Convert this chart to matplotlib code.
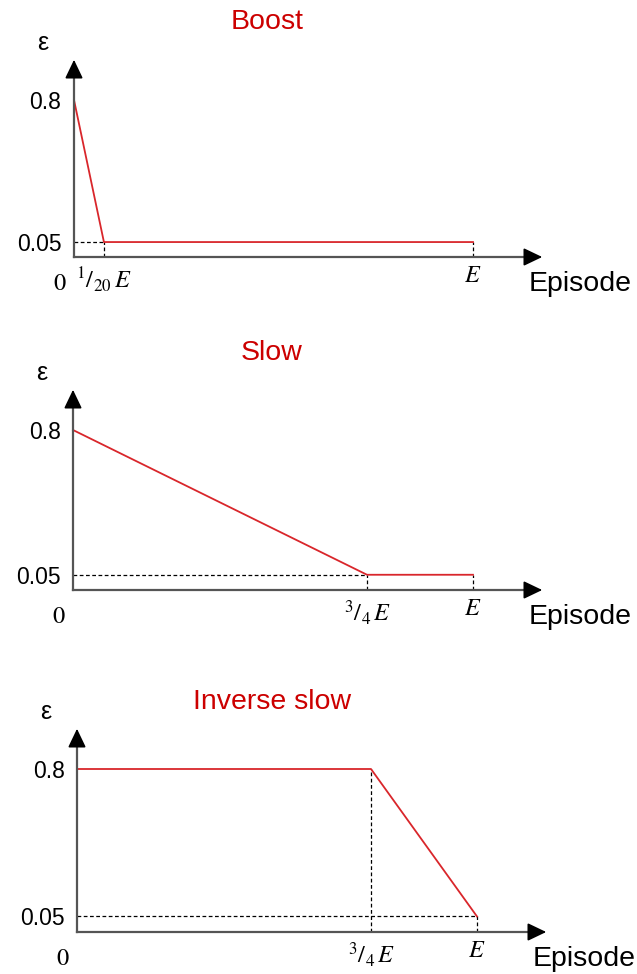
import numpy as np
import matplotlib
matplotlib.use("Agg")
import matplotlib.pyplot as plt

plt.rcParams['font.family'] = ['Liberation Sans', 'DejaVu Sans']
plt.rcParams['mathtext.fontset'] = 'stix'

# schedules: episode as fraction of E, epsilon value
boost_x = [0, 1 / 20, 1]
boost_eps = [0.8, 0.05, 0.05]
slow_x = [0, 3 / 4, 1]
slow_eps = [0.8, 0.05, 0.05]
inv_x = [0, 3 / 4, 1]
inv_eps = [0.8, 0.8, 0.05]

titles = ["Boost", "Slow", "Inverse slow"]
xlabels_boost = [r"$^{1}/_{20}\,E$", r"$E$"]
xlabels_34 = [r"$^{3}/_{4}\,E$", r"$E$"]
ytick_vals = [0.05, 0.8]
ytick_labels = ["0.05", "0.8"]

RED = "#d9262b"
TITLE_RED = "#cc0000"
W, H = 637, 974

fig = plt.figure(figsize=(W / 100, H / 100), dpi=100)


def piecewise(knots, pos):
    # schematic (non-linear) axis, like the hand drawn sketch
    f = lambda v: np.interp(v, knots, pos)
    g = lambda p: np.interp(p, pos, knots)
    return f, g


def panel(box, xs, eps, title, xlabels, title_xy, xpos):
    L, R, B, T = box
    ax = fig.add_axes([L / W, 1 - B / H, (R - L) / W, (B - T) / H])
    ax.set_yscale('function', functions=piecewise([0, 0.05, 0.8], [0, 1, 10.5]))
    ax.set_xscale('function', functions=piecewise([0, xs[1], 1], [0, xpos, 1]))
    ax.set_xlim(0, 1)
    ax.set_ylim(0, 0.8)
    for s in ax.spines.values():
        s.set_visible(False)
    ax.patch.set_alpha(0)

    # dashed guides
    emin = min(eps)
    x_first_min = xs[eps.index(emin)]
    ax.plot([0, x_first_min], [emin, emin], ls=(0, (3, 2)), color='black', lw=0.9, clip_on=False)
    for x, e in zip(xs[1:], eps[1:]):
        ax.plot([x, x], [0, e], ls=(0, (3, 2)), color='black', lw=0.9, clip_on=False)

    ax.plot(xs, eps, color=RED, lw=1.3, clip_on=False)

    # axes with arrows
    w_px, h_px = R - L, B - T
    xtip = 1 + 72 / w_px
    ytip = 1 + 43 / h_px
    ax.plot([0, xtip - 0.02], [0, 0], transform=ax.transAxes, color='#555555', lw=1.6, clip_on=False)
    ax.plot([0, 0], [0, ytip - 0.05], transform=ax.transAxes, color='#555555', lw=1.6, clip_on=False)
    head = '-|>,head_length=1.15,head_width=0.55'
    ax.annotate('', xy=(xtip, 0), xytext=(xtip - 0.05, 0), xycoords='axes fraction',
                arrowprops=dict(arrowstyle=head, color='black', lw=1.2))
    ax.annotate('', xy=(0, ytip), xytext=(0, ytip - 0.12), xycoords='axes fraction',
                arrowprops=dict(arrowstyle=head, color='black', lw=1.2))

    ax.set_yticks(ytick_vals, ytick_labels, fontsize=16.5)
    ax.set_xticks(xs[1:], xlabels, fontsize=17.5)
    ax.tick_params(length=0)
    ax.tick_params(axis='y', pad=9)
    ax.tick_params(axis='x', pad=6)
    ax.annotate(r"$0$", xy=(0, 0), xycoords='axes fraction', xytext=(-14, -27),
                textcoords='offset pixels', ha='center', va='center', fontsize=17.5)
    ax.annotate("Episode", xy=(1, 0), xycoords='axes fraction', xytext=(56, -27),
                textcoords='offset pixels', ha='left', va='center', fontsize=20.5)
    ax.annotate("ε", xy=(0, ytip), xycoords='axes fraction', xytext=(-31, 14),
                textcoords='offset pixels', ha='center', va='center', fontsize=18)

    fig.text(title_xy[0] / W, 1 - title_xy[1] / H, title, color=TITLE_RED,
             fontsize=20.5, ha='center', va='center')
    return ax


panel((74, 473, 257, 100), boost_x, boost_eps, titles[0], xlabels_boost, (267, 22), 0.075)
panel((73, 473, 590, 430), slow_x, slow_eps, titles[1], xlabels_34, (272, 353), 0.735)
panel((77, 477, 932, 769), inv_x, inv_eps, titles[2], xlabels_34, (272, 702), 0.735)

fig.savefig("out.png", dpi=100)
